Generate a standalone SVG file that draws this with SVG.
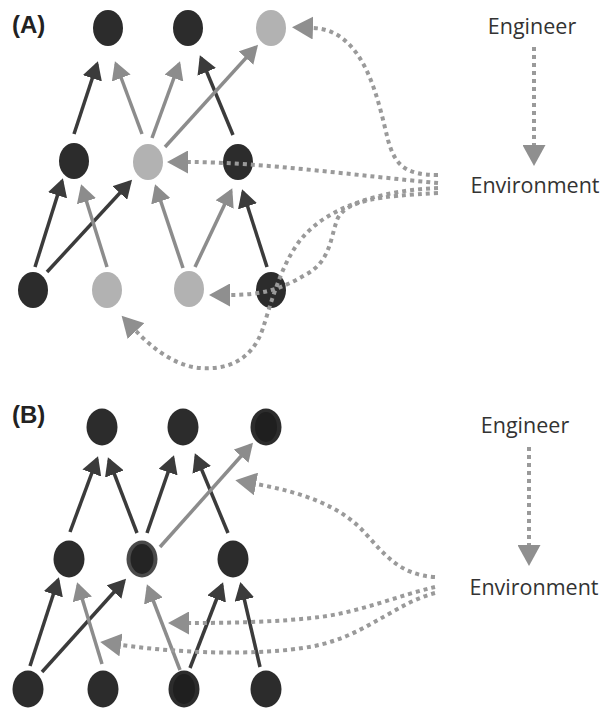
<svg xmlns="http://www.w3.org/2000/svg" width="611" height="712" viewBox="0 0 611 712">
<style>
.dk{fill:#2c2c2c}
.lt{fill:#b2b2b2}
.ad{stroke:#3b3b3b;stroke-width:3.5;fill:none;marker-end:url(#hd)}
.ag{stroke:#8c8c8c;stroke-width:3.5;fill:none;marker-end:url(#hg)}
.dt{stroke:#9a9a9a;stroke-width:4;stroke-dasharray:4 4;fill:none;marker-end:url(#hp)}
.lbl{font-family:"Liberation Sans",Arial,sans-serif;font-weight:bold;font-size:24px;fill:#222}
.txt{font-family:"Open Sans","DejaVu Sans",sans-serif;font-size:21.5px;fill:#333;text-anchor:middle}
</style>
<defs>
<marker id="hd" markerUnits="userSpaceOnUse" markerWidth="20" markerHeight="20" refX="15" refY="10" orient="auto"><path d="M0,0 L18,10 L0,20 z" fill="#3b3b3b"/></marker>
<marker id="hg" markerUnits="userSpaceOnUse" markerWidth="20" markerHeight="20" refX="15" refY="10" orient="auto"><path d="M0,0 L18,10 L0,20 z" fill="#8c8c8c"/></marker>
<marker id="hp" markerUnits="userSpaceOnUse" markerWidth="23" markerHeight="23" refX="0" refY="11.5" orient="auto"><path d="M0,0 L21,11.5 L0,23 z" fill="#8f8f8f"/></marker>
</defs>

<text class="lbl" x="12" y="33">(A)</text>
<text class="lbl" x="12" y="423">(B)</text>
<text class="txt" x="532" y="34">Engineer</text>
<text class="txt" x="535" y="193">Environment</text>
<text class="txt" x="525" y="433">Engineer</text>
<text class="txt" x="534" y="595">Environment</text>

<!-- Panel A nodes -->
<g id="a-t1"><ellipse class="dk" cx="108" cy="28" rx="15" ry="18"/></g>
<g id="a-t2"><ellipse class="dk" cx="188" cy="28" rx="15" ry="18"/></g>
<g id="a-t3"><ellipse class="lt" cx="271" cy="28" rx="15" ry="18"/></g>
<g id="a-m1"><ellipse class="dk" cx="74" cy="161" rx="15" ry="18"/></g>
<g id="a-m2"><ellipse class="lt" cx="148" cy="162" rx="15" ry="18"/></g>
<g id="a-m3"><ellipse class="dk" cx="238" cy="162" rx="15" ry="18"/></g>
<g id="a-b1"><ellipse class="dk" cx="33" cy="290" rx="15" ry="18"/></g>
<g id="a-b2"><ellipse class="lt" cx="107" cy="290" rx="15" ry="18"/></g>
<g id="a-b3"><ellipse class="lt" cx="189" cy="289" rx="15" ry="18"/></g>
<g id="a-b4"><ellipse class="dk" cx="271" cy="290" rx="15" ry="18"/></g>

<!-- Panel B nodes -->
<g id="b-t1"><ellipse class="dk" cx="102" cy="427" rx="15.5" ry="18.5"/></g>
<g id="b-t2"><ellipse class="dk" cx="183" cy="427" rx="15.5" ry="18.5"/></g>
<g id="b-t3"><ellipse class="dk" cx="266" cy="427" rx="15.5" ry="18.5"/><ellipse cx="266" cy="427" rx="11" ry="15" fill="#1f1f1f"/></g>
<g id="b-m1"><ellipse class="dk" cx="69" cy="559" rx="15.5" ry="18.5"/></g>
<g id="b-m2"><ellipse cx="142" cy="559" rx="15.5" ry="18.5" fill="#4a4a4a"/><ellipse cx="142" cy="559" rx="11.5" ry="15" fill="#242424"/></g>
<g id="b-m3"><ellipse class="dk" cx="233" cy="559" rx="15.5" ry="18.5"/></g>
<g id="b-b1"><ellipse class="dk" cx="28" cy="689" rx="15.5" ry="18.5"/></g>
<g id="b-b2"><ellipse class="dk" cx="103" cy="689" rx="15.5" ry="18.5"/></g>
<g id="b-b3"><ellipse class="dk" cx="184" cy="689" rx="15.5" ry="18.5"/><ellipse cx="184" cy="689" rx="11" ry="15" fill="#1f1f1f"/></g>
<g id="b-b4"><ellipse class="dk" cx="266" cy="689" rx="15.5" ry="18.5"/></g>

<g id="connectors">
<!-- Panel A solid -->
<line class="ad" x1="74" y1="134" x2="97" y2="64"/>
<line class="ad" x1="233" y1="135" x2="201" y2="58"/>
<line class="ad" x1="35" y1="267" x2="62" y2="181"/>
<line class="ad" x1="47" y1="272" x2="130" y2="182"/>
<line class="ad" x1="267" y1="267" x2="243" y2="192"/>
<line class="ag" x1="142" y1="134" x2="116" y2="64"/>
<line class="ag" x1="152" y1="138" x2="179" y2="64"/>
<line class="ag" x1="165" y1="147" x2="256" y2="47"/>
<line class="ag" x1="107" y1="267" x2="82" y2="187"/>
<line class="ag" x1="183" y1="268" x2="156" y2="187"/>
<line class="ag" x1="195" y1="267" x2="231" y2="191"/>
<!-- Panel A dotted -->
<path class="dt" d="M534,47 L534,145"/>
<path class="dt" d="M438,175 C405,175 395,165 388,140 C378,100 365,30 313,28"/>
<path class="dt" d="M438,183 C360,176 260,162 188,162"/>
<path class="dt" d="M438,188 C385,190 330,205 302,238 C282,262 272,300 263,328 C252,362 225,370 200,368 C175,366 152,348 136,331"/>
<path class="dt" d="M438,193 C380,196 345,200 337,220 C330,240 330,262 305,275 C280,290 260,295 230,295"/>

<!-- Panel B solid -->
<line class="ad" x1="70" y1="532" x2="97" y2="459"/>
<line class="ad" x1="137" y1="533" x2="109" y2="460"/>
<line class="ad" x1="147" y1="533" x2="173" y2="458"/>
<line class="ad" x1="228" y1="533" x2="196" y2="456"/>
<line class="ad" x1="30" y1="666" x2="58" y2="580"/>
<line class="ad" x1="42" y1="672" x2="124" y2="581"/>
<line class="ad" x1="190" y1="668" x2="222" y2="585"/>
<line class="ad" x1="260" y1="667" x2="241" y2="585"/>
<line class="ag" x1="160" y1="547" x2="251" y2="445"/>
<line class="ag" x1="102" y1="664" x2="78" y2="585"/>
<line class="ag" x1="180" y1="670" x2="148" y2="587"/>
<!-- Panel B dotted -->
<path class="dt" d="M529,447 L529,545"/>
<path class="dt" d="M435,577 C400,575 385,555 365,533 C340,505 300,492 256,484"/>
<path class="dt" d="M435,587 C400,595 360,612 320,617 C280,622 230,623 189,623"/>
<path class="dt" d="M435,593 C400,602 370,630 330,642 C290,655 200,656 121,645"/>
</g>
</svg>
